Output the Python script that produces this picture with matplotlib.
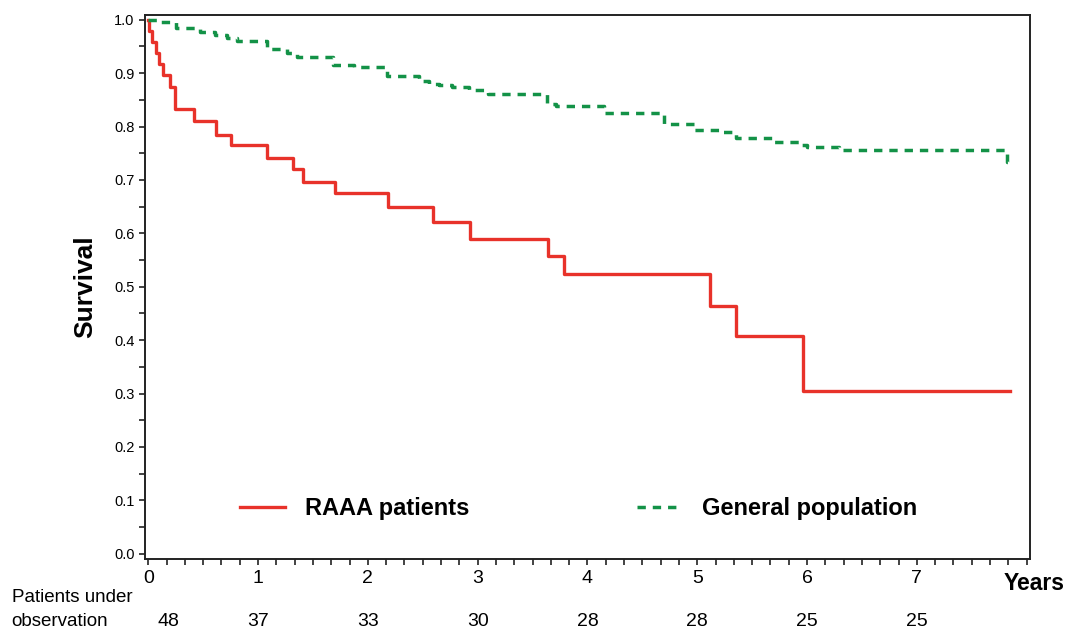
import numpy as np
import matplotlib
matplotlib.use("Agg")
import matplotlib.pyplot as plt
from matplotlib.ticker import MultipleLocator

plt.rcParams['font.family'] = ['Liberation Sans', 'DejaVu Sans']

# --- datos ---
raaa_t = [0, 0.01, 0.03, 0.07, 0.10, 0.13, 0.20, 0.24, 0.42, 0.62, 0.75, 1.08, 1.32,
          1.41, 1.70, 2.18, 2.59, 2.93, 3.64, 3.79, 5.12, 5.35, 5.96, 7.85]
raaa_s = [1.0, 0.979, 0.958, 0.938, 0.917, 0.896, 0.875, 0.833, 0.810, 0.785, 0.765,
          0.742, 0.720, 0.697, 0.675, 0.649, 0.622, 0.589, 0.557, 0.524, 0.463,
          0.407, 0.305, 0.305]

gen_t = [0, 0.08, 0.25, 0.47, 0.61, 0.72, 0.81, 1.08, 1.26, 1.35, 1.68, 1.87, 2.17,
         2.47, 2.56, 2.65, 2.77, 2.92, 3.09, 3.63, 3.71, 4.15, 4.70, 4.97, 5.20,
         5.35, 5.69, 5.94, 6.00, 6.29, 7.82, 7.85]
gen_s = [1.0, 0.995, 0.985, 0.977, 0.971, 0.966, 0.961, 0.946, 0.938, 0.930, 0.916,
         0.911, 0.895, 0.885, 0.880, 0.877, 0.874, 0.869, 0.861, 0.842, 0.839, 0.825,
         0.805, 0.794, 0.789, 0.778, 0.772, 0.766, 0.761, 0.757, 0.734, 0.734]

years = [0, 1, 2, 3, 4, 5, 6, 7]
at_risk = [48, 37, 33, 30, 28, 28, 25, 25]

RED = '#e8322a'
GREEN = '#139247'

fig = plt.figure(figsize=(10.67, 6.32), dpi=100)
ax = fig.add_axes([0.1359, 0.1155, 0.8294, 0.8608])

ax.step(raaa_t, raaa_s, where='post', color=RED, lw=2.4, label='RAAA patients')
ax.step(gen_t, gen_s, where='post', color=GREEN, lw=2.5, dashes=(2.4, 2.0),
        dash_capstyle='butt', label='General population')

ax.set_xlim(-0.03, 8.03)
ax.set_ylim(-0.01, 1.009)

ax.xaxis.set_minor_locator(MultipleLocator(1 / 6))
ax.yaxis.set_major_locator(MultipleLocator(0.1))
ax.yaxis.set_minor_locator(MultipleLocator(0.05))
ax.set_xticks(years)
ax.set_xticklabels([str(y) for y in years], fontsize=14)
ax.set_yticks(np.arange(0, 1.01, 0.1))
ax.set_yticklabels([f"{v:.1f}" for v in np.arange(0, 1.01, 0.1)], fontsize=10.5)
ax.tick_params(which='both', direction='out', length=4, width=1.2, color='#222222')
ax.tick_params(axis='x', pad=4)
for s in ax.spines.values():
    s.set_linewidth(1.4)
    s.set_color('#222222')

ax.set_ylabel('Survival', fontsize=19, fontweight='bold', labelpad=12)

ax.text(8.07, -0.035, 'Years', fontsize=16.5, fontweight='bold', ha='center', va='top')

# pacientes en observacion
fig.text(0.011, 0.055, 'Patients under', fontsize=13.5, va='center')
fig.text(0.011, 0.016, 'observation', fontsize=13.5, va='center')
for i, (yr, n) in enumerate(zip(years, at_risk)):
    off = 0.18 if i == 0 else 0
    xf = ax.transData.transform((yr + off, 0))[0] / fig.bbox.width
    fig.text(xf, 0.016, str(n), fontsize=14, ha='center', va='center')

leg = ax.legend(loc='center', bbox_to_anchor=(0.49, 0.092), bbox_transform=ax.transAxes,
                ncol=2, frameon=False, handlelength=1.9, columnspacing=7.1,
                handletextpad=0.85, prop={'weight': 'bold', 'size': 17})

fig.savefig('out.png', dpi=100)
